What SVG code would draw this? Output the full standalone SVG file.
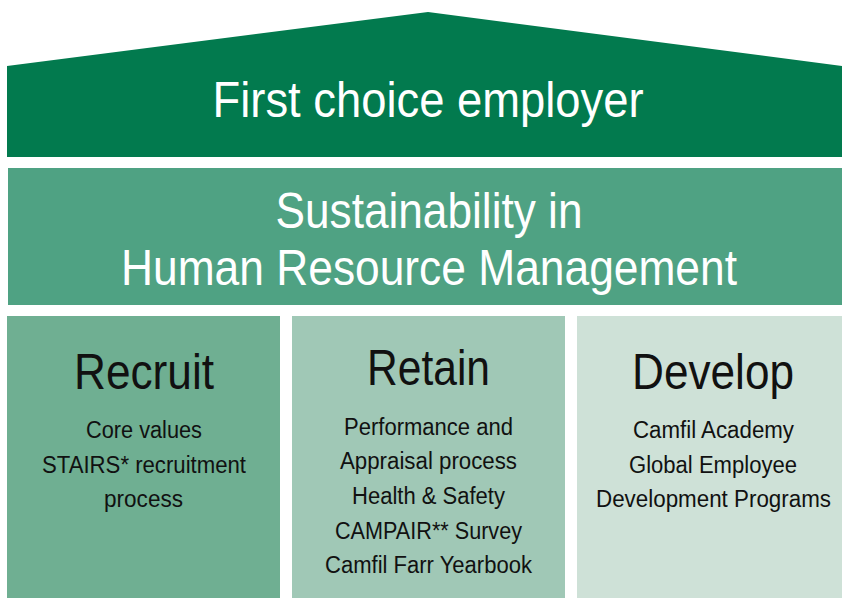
<svg xmlns="http://www.w3.org/2000/svg" width="842" height="598" viewBox="0 0 842 598">
<style>
text{font-family:"Liberation Sans Narrow","Liberation Sans",Arial,sans-serif;text-anchor:middle}
.w{fill:#ffffff;font-size:50px;font-weight:300}
.t{fill:#111111;font-size:50px}
.l{fill:#111111;font-size:23px}
</style>
<rect width="842" height="598" fill="#ffffff"/>
<g id="roof">
<polygon points="7,66 428,12 842,66 842,157 7,157" fill="#027A4E"/>
<text class="w" x="428" y="117" textLength="431" lengthAdjust="spacingAndGlyphs">First choice employer</text>
</g>
<g id="band">
<rect x="8" y="168" width="834" height="137" fill="#4FA283"/>
<text class="w" x="429" y="228" textLength="307" lengthAdjust="spacingAndGlyphs">Sustainability in</text>
<text class="w" x="429" y="285" textLength="616" lengthAdjust="spacingAndGlyphs">Human Resource Management</text>
</g>
<g id="recruit">
<rect x="7" y="316" width="273" height="282" fill="#6FAF92"/>
<text class="t" x="144" y="389" textLength="140" lengthAdjust="spacingAndGlyphs">Recruit</text>
<text class="l" x="144" y="438" textLength="116" lengthAdjust="spacingAndGlyphs">Core values</text>
<text class="l" x="144" y="473" textLength="204" lengthAdjust="spacingAndGlyphs">STAIRS* recruitment</text>
<text class="l" x="143.5" y="507" textLength="79" lengthAdjust="spacingAndGlyphs">process</text>
</g>
<g id="retain">
<rect x="292" y="316" width="273" height="282" fill="#A0C8B6"/>
<text class="t" x="428.5" y="385" textLength="123" lengthAdjust="spacingAndGlyphs">Retain</text>
<text class="l" x="428.5" y="435" textLength="169" lengthAdjust="spacingAndGlyphs">Performance and</text>
<text class="l" x="428.5" y="469" textLength="177" lengthAdjust="spacingAndGlyphs">Appraisal process</text>
<text class="l" x="428.5" y="504" textLength="153" lengthAdjust="spacingAndGlyphs">Health &amp; Safety</text>
<text class="l" x="428.5" y="539" textLength="187" lengthAdjust="spacingAndGlyphs">CAMPAIR** Survey</text>
<text class="l" x="428.5" y="573" textLength="207" lengthAdjust="spacingAndGlyphs">Camfil Farr Yearbook</text>
</g>
<g id="develop">
<rect x="577" y="316" width="265" height="282" fill="#CEE1D7"/>
<text class="t" x="713" y="389" textLength="162" lengthAdjust="spacingAndGlyphs">Develop</text>
<text class="l" x="713.5" y="438" textLength="161" lengthAdjust="spacingAndGlyphs">Camfil Academy</text>
<text class="l" x="713" y="473" textLength="168" lengthAdjust="spacingAndGlyphs">Global Employee</text>
<text class="l" x="713.5" y="507" textLength="235" lengthAdjust="spacingAndGlyphs">Development Programs</text>
</g>
<g id="connectors"></g>
</svg>
